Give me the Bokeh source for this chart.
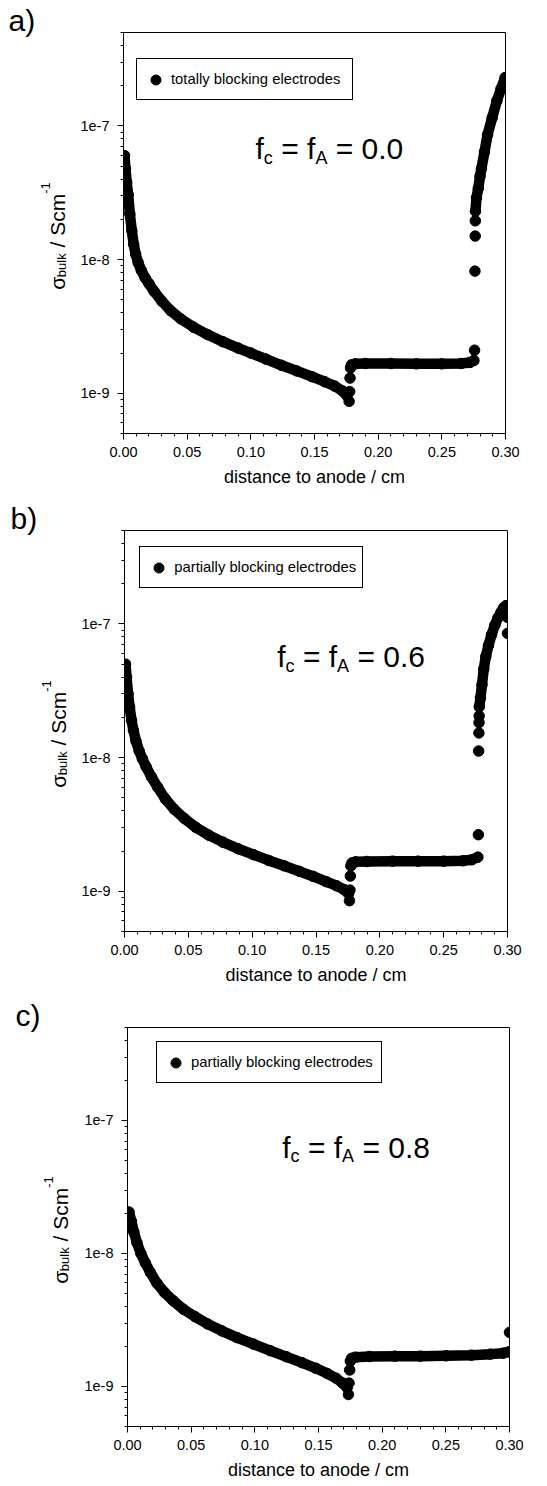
from math import pi
from bokeh.plotting import figure
from bokeh.models import (FixedTicker, NumeralTickFormatter, CustomJSTickFormatter,
                          Label, Legend, LegendItem)
from bokeh.layouts import column, row
from bokeh.embed import file_html
from bokeh.resources import INLINE

FONT = "Liberation Sans"

# ---------------- data ----------------
# seg: 1,2,3 = dense connected runs of points, 0 = isolated points
a_x = [0.0008, 0.0015, 0.0025, 0.0037, 0.005, 0.0065, 0.008, 0.0095, 0.0115, 0.014,
       0.017, 0.020, 0.024, 0.030, 0.037, 0.045, 0.055, 0.066, 0.078, 0.090,
       0.100, 0.112, 0.124, 0.136, 0.148, 0.158, 0.166, 0.172, 0.1755,
       0.1772, 0.1776, 0.1779,
       0.1783, 0.1790, 0.1820, 0.1900, 0.2100, 0.2300, 0.2500, 0.2650, 0.2720, 0.2752,
       0.2757, 0.2760, 0.2762, 0.2763,
       0.2764, 0.2772, 0.2786, 0.2800, 0.2811, 0.2835, 0.2859, 0.2895, 0.2932, 0.2965, 0.2997]
a_y = [6.0e-8, 4.8e-8, 3.8e-8, 3.05e-8, 2.2e-8, 1.65e-8, 1.3e-8, 1.1e-8, 9.5e-9, 8.3e-9,
       7.3e-9, 6.6e-9, 5.8e-9, 4.9e-9, 4.15e-9, 3.6e-9, 3.12e-9, 2.75e-9, 2.43e-9, 2.18e-9,
       2.0e-9, 1.8e-9, 1.62e-9, 1.47e-9, 1.33e-9, 1.22e-9, 1.13e-9, 1.04e-9, 0.96e-9,
       0.87e-9, 1.03e-9, 1.3e-9,
       1.55e-9, 1.63e-9, 1.66e-9, 1.67e-9, 1.67e-9, 1.66e-9, 1.66e-9, 1.67e-9, 1.7e-9, 1.76e-9,
       2.1e-9, 8.2e-9, 1.5e-8, 1.95e-8,
       2.3e-8, 2.9e-8, 3.4e-8, 4.2e-8, 4.8e-8, 6.4e-8, 8.6e-8, 1.15e-7, 1.54e-7, 1.9e-7, 2.3e-7]
a_seg = [1] * 29 + [0] * 3 + [2] * 10 + [0] * 4 + [3] * 11

b_x = [0.0008, 0.0016, 0.0028, 0.004, 0.0055, 0.007, 0.009, 0.0115, 0.014, 0.017,
       0.021, 0.026, 0.032, 0.039, 0.047, 0.056, 0.066, 0.077, 0.089, 0.101,
       0.113, 0.125, 0.137, 0.148, 0.158, 0.166, 0.172, 0.1755,
       0.1762, 0.1766, 0.1769,
       0.1773, 0.1782, 0.1810, 0.1900, 0.2100, 0.2300, 0.2500, 0.2650, 0.2720, 0.2768,
       0.2772, 0.2774, 0.2776, 0.2777, 0.2778,
       0.2779, 0.2788, 0.2800, 0.2814, 0.2830, 0.2851, 0.2875, 0.2901, 0.2925, 0.2950,
       0.2970, 0.2988, 0.2997,
       0.2999, 0.3000]
b_y = [5.0e-8, 4.0e-8, 3.0e-8, 2.4e-8, 1.9e-8, 1.6e-8, 1.33e-8, 1.12e-8, 9.8e-9, 8.5e-9,
       7.2e-9, 6.0e-9, 4.9e-9, 4.1e-9, 3.5e-9, 3.0e-9, 2.63e-9, 2.33e-9, 2.08e-9, 1.88e-9,
       1.7e-9, 1.55e-9, 1.41e-9, 1.29e-9, 1.18e-9, 1.1e-9, 1.03e-9, 0.96e-9,
       0.85e-9, 1.02e-9, 1.3e-9,
       1.55e-9, 1.63e-9, 1.66e-9, 1.67e-9, 1.68e-9, 1.68e-9, 1.68e-9, 1.69e-9, 1.72e-9, 1.8e-9,
       2.65e-9, 1.12e-8, 1.53e-8, 1.83e-8, 2.05e-8,
       2.4e-8, 2.8e-8, 3.5e-8, 4.6e-8, 5.7e-8, 6.9e-8, 8.3e-8, 9.8e-8, 1.11e-7, 1.23e-7,
       1.32e-7, 1.37e-7, 1.33e-7,
       1.12e-7, 8.5e-8]
b_seg = [1] * 28 + [0] * 3 + [2] * 10 + [0] * 5 + [3] * 13 + [0] * 2

c_x = [0.0012, 0.003, 0.005, 0.0075, 0.0105, 0.014, 0.018, 0.023, 0.029, 0.036,
       0.044, 0.053, 0.063, 0.074, 0.086, 0.099, 0.112, 0.125, 0.137, 0.148,
       0.157, 0.164, 0.169, 0.1725,
       0.1735, 0.1740, 0.1745,
       0.1750, 0.1760, 0.1790, 0.1900, 0.2100, 0.2300, 0.2500, 0.2700, 0.2850, 0.2950, 0.2995,
       0.3000]
c_y = [2.05e-8, 1.75e-8, 1.45e-8, 1.2e-8, 1.0e-8, 8.5e-9, 7.2e-9, 6.0e-9, 5.1e-9, 4.4e-9,
       3.8e-9, 3.35e-9, 2.95e-9, 2.62e-9, 2.33e-9, 2.08e-9, 1.86e-9, 1.67e-9, 1.51e-9, 1.37e-9,
       1.25e-9, 1.15e-9, 1.06e-9, 0.98e-9,
       0.87e-9, 1.06e-9, 1.33e-9,
       1.55e-9, 1.63e-9, 1.66e-9, 1.68e-9, 1.69e-9, 1.69e-9, 1.7e-9, 1.72e-9, 1.75e-9, 1.78e-9, 1.82e-9,
       2.55e-9]
c_seg = [1] * 24 + [0] * 3 + [2] * 11 + [0] * 1

legend_labels = ["totally blocking electrodes", "partially blocking electrodes",
                 "partially blocking electrodes"]
f_values = ["0.0", "0.6", "0.8"]
panel_letters = ["a)", "b)", "c)"]

x_major = [0.0, 0.05, 0.10, 0.15, 0.20, 0.25, 0.30]
x_minor = [round(0.01 * i, 2) for i in range(31) if i % 5]
y_major = [1e-9, 1e-8, 1e-7]
y_minor = [m * 10.0 ** e for e in (-10, -9, -8, -7) for m in range(2, 10)
           if 4.9e-10 < m * 10.0 ** e < 5.1e-7]
x_title = "distance to anode / cm"

# ---------------- helpers ----------------
CW = {' ': 278, '=': 584, '.': 278, 'f': 278, 'c': 500, 'A': 667, '/': 278, 'S': 667,
      'm': 833, 'b': 556, 'u': 556, 'l': 222, 'k': 500, '-': 333, '\u03c3': 600}


def tw(text, size):
    return sum(CW.get(ch, 556) for ch in text) / 1000.0 * size


def add_pieces(p, pieces, x0, y0, rotated=False):
    """Place text pieces one after another (SVG drops leading blanks, so they
    are turned into an offset)."""
    pos = 0.0
    for text, size, shift in pieces:
        lead = len(text) - len(text.lstrip(" "))
        pos += tw(" " * lead, size)
        body = text.lstrip(" ")
        kw = dict(x_units="screen", y_units="screen", text=body, text_font=FONT,
                  text_font_size=f"{size}px", text_color="black",
                  text_baseline="alphabetic", text_align="left")
        if rotated:
            lbl = Label(x=x0 + shift, y=y0 + pos, angle=pi / 2, **kw)
        else:
            lbl = Label(x=x0 + pos, y=y0 - shift, **kw)
        p.add_layout(lbl)
        pos += tw(body, size)
    return pos


def seg_lines(xs, ys, seg):
    groups = {}
    for x, y, s in zip(xs, ys, seg):
        if s > 0:
            g = groups.setdefault(s, ([], []))
            g[0].append(x)
            g[1].append(y)
    keys = sorted(groups)
    return [groups[k][0] for k in keys], [groups[k][1] for k in keys]


STRIP_W = 76
# layout geometry per panel (pixels)
geo = [
    dict(h=497, left=47, right=42, top=32, bottom=64, fx=132, fy=284.7,
         letx=8, tx=57, ty=197.5, legx=13, legy=333, legw=175),
    dict(h=497, left=48, right=40, top=33, bottom=63, fx=152.7, fy=275,
         letx=10, tx=58, ty=197.5, legx=15.3, legy=342.7, legw=180),
    dict(h=492, left=51, right=38, top=33, bottom=60, fx=154.7, fy=279.3,
         letx=15, tx=60, ty=196.5, legx=29, legy=342.7, legw=184),
]

datasets = [(a_x, a_y, a_seg), (b_x, b_y, b_seg), (c_x, c_y, c_seg)]

rows = []
for i, (xs, ys, seg) in enumerate(datasets):
    g = geo[i]
    # ---- left strip holding the panel letter (as title) and the y-axis title ----
    s = figure(width=STRIP_W, height=g["h"], x_range=(0, 1), y_range=(0, 1),
               output_backend="svg", toolbar_location=None, title=panel_letters[i],
               x_axis_location=None, y_axis_location=None,
               min_border_left=0, min_border_right=0,
               min_border_top=g["top"], min_border_bottom=g["bottom"])
    s.title.align = "left"
    s.title.offset = g["letx"]
    s.title.text_font = FONT
    s.title.text_font_size = "30px"
    s.title.text_font_style = "normal"
    s.title.text_color = "black"
    s.title.vertical_align = "bottom"
    s.title.standoff = -8
    s.xgrid.visible = False
    s.ygrid.visible = False
    s.outline_line_color = None
    s.background_fill_color = "white"
    s.border_fill_color = "white"
    ypieces = [("\u03c3", 21, 0), ("bulk", 13, 4), (" / Scm", 21, 0), ("-1", 13, -12)]
    total = sum(tw(t, z) for t, z, _ in ypieces)
    add_pieces(s, ypieces, g["tx"], g["ty"] - total / 2, rotated=True)

    # ---- main plot ----
    p = figure(width=547 - STRIP_W, height=g["h"], x_range=(0, 0.30), y_range=(5e-10, 5e-7),
               y_axis_type="log", output_backend="svg", toolbar_location=None, title=None,
               min_border_left=g["left"], min_border_right=g["right"],
               min_border_top=g["top"], min_border_bottom=g["bottom"])
    p.xgrid.visible = False
    p.ygrid.visible = False
    p.outline_line_color = "black"
    p.outline_line_width = 1
    p.background_fill_color = "white"
    p.border_fill_color = "white"

    lxs, lys = seg_lines(xs, ys, seg)
    p.multi_line(lxs, lys, line_width=10.5, line_color="black",
                 line_cap="round", line_join="round")
    sc = p.scatter(xs, ys, size=10.5, fill_color="black", line_color="black")

    xa = p.xaxis[0]
    xa.ticker = FixedTicker(ticks=x_major, minor_ticks=x_minor)
    xa.formatter = NumeralTickFormatter(format="0.00")
    xa.axis_label = x_title
    xa.axis_label_text_font = FONT
    xa.axis_label_text_font_size = "18px"
    xa.axis_label_text_font_style = "normal"
    xa.axis_label_text_color = "black"
    xa.axis_label_standoff = 7
    xa.major_label_standoff = 7

    ya = p.yaxis[0]
    ya.ticker = FixedTicker(ticks=y_major, minor_ticks=y_minor)
    ya.formatter = CustomJSTickFormatter(code="return '1e' + Math.round(Math.log10(tick));")
    ya.major_label_standoff = 8

    for ax in (xa, ya):
        ax.major_label_text_font = FONT
        ax.major_label_text_font_size = "14.5px"
        ax.major_label_text_color = "black"
        ax.axis_line_color = "black"
        ax.axis_line_width = 1
        ax.major_tick_line_color = "black"
        ax.minor_tick_line_color = "black"
        ax.major_tick_in = 0
        ax.major_tick_out = 6
        ax.minor_tick_in = 0
        ax.minor_tick_out = 3

    # f_c = f_A = value annotation
    fpieces = [("f", 30, 0), ("c", 18, 9), (" = f", 30, 0), ("A", 18, 9),
               (" = " + f_values[i], 30, 0)]
    add_pieces(p, fpieces, g["fx"], g["fy"])

    leg = Legend(items=[LegendItem(label=legend_labels[i], renderers=[sc])],
                 location=(g["legx"], g["legy"]), orientation="vertical",
                 border_line_color="black", border_line_width=1, border_line_alpha=1,
                 background_fill_color="white", background_fill_alpha=1,
                 padding=6, margin=0, spacing=0,
                 glyph_width=25, glyph_height=25, label_height=28, label_standoff=3,
                 label_width=g["legw"], label_text_font=FONT,
                 label_text_font_size="14.8px", label_text_color="black")
    p.add_layout(leg)
    rows.append(row(s, p, spacing=0))

layout = column(*rows, spacing=0)
open("out.html", "w").write(file_html(layout, INLINE))
